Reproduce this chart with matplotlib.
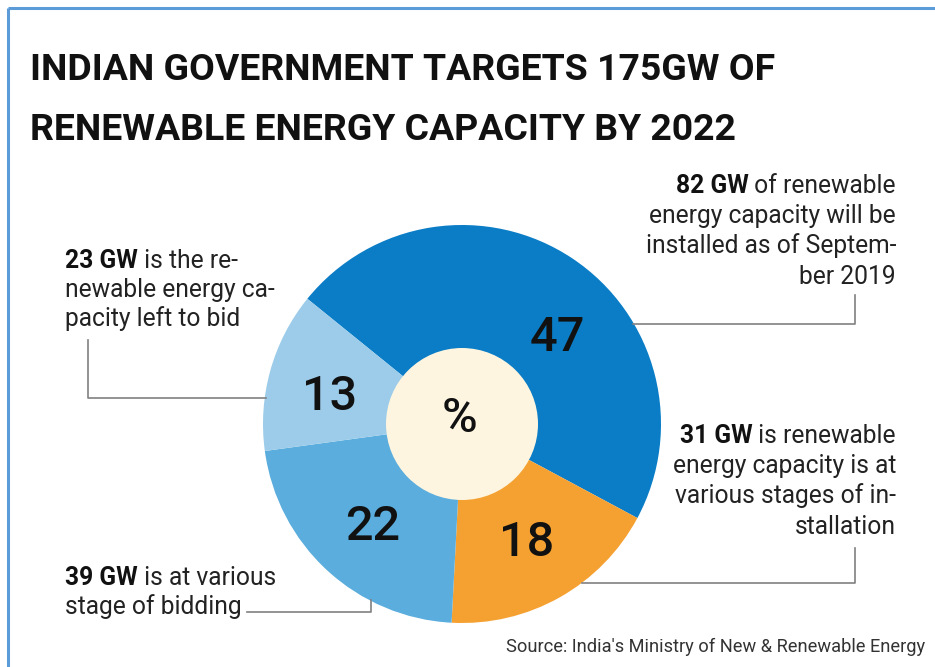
import matplotlib
matplotlib.use("Agg")
import matplotlib.pyplot as plt
from matplotlib import font_manager as fm
from matplotlib.patches import Circle

W, H = 935, 667

# data
shares = [47, 18, 22, 13]
share_labels = ["47", "18", "22", "13"]
colors = ["#0a7dc6", "#f5a132", "#5aaddd", "#9ccce9"]
title_lines = ["INDIAN GOVERNMENT TARGETS 175GW OF",
               "RENEWABLE ENERGY CAPACITY BY 2022"]
notes = [
    ("82 GW", " of renewable",
     ["energy capacity will be", "installed as of Septem-", "ber 2019"]),
    ("31 GW", " is renewable",
     ["energy capacity is at", "various stages of in-", "stallation"]),
    ("23 GW", " is the re-",
     ["newable energy ca-", "pacity left to bid"]),
    ("39 GW", " is at various",
     ["stage of bidding"]),
]
source = "Source: India's Ministry of New & Renewable Energy"


def pick(*names):
    for n in names:
        try:
            fm.findfont(fm.FontProperties(family=n), fallback_to_default=False)
            return n
        except ValueError:
            pass
    return "DejaVu Sans"


narrow = pick("Liberation Sans Narrow", "Roboto", "DejaVu Sans")

fig = plt.figure(figsize=(W / 100, H / 100), dpi=100)
ax = fig.add_axes([0, 0, 1, 1])

cx, cy, r = 462, H - 424, 199
ax.pie(shares, colors=colors, startangle=141, counterclock=False,
       center=(cx, cy), radius=r, wedgeprops=dict(linewidth=0))
ax.add_patch(Circle((cx, cy), 76, facecolor="#fdf5e0", edgecolor="none", zorder=3))
ax.set_xlim(0, W)
ax.set_ylim(0, H)
ax.set_aspect("auto")
ax.axis("off")

renderer = fig.canvas.get_renderer()


def width(t):
    return t.get_window_extent(renderer).width


def fit(t, target):
    t.set_fontsize(t.get_fontsize() * target / width(t))


# border
ax.plot([8, 8], [0, H - 8], color="#5a9bd8", lw=2.2, solid_capstyle="butt")
ax.plot([8, W], [H - 8, H - 8], color="#5a9bd8", lw=2.2, solid_capstyle="butt")

# title
t1 = ax.text(30, H - 80, title_lines[0], family=narrow, weight="bold",
             fontsize=30, color="#111111")
fit(t1, 745)
ax.text(30, H - 140, title_lines[1], family=narrow, weight="bold",
        fontsize=t1.get_fontsize(), color="#111111")

# annotation font size from a reference line
probe = ax.text(0, 0, "energy capacity will be", family=narrow, fontsize=18)
fit(probe, 247)
fs = probe.get_fontsize()
probe.remove()

blocks = [(896, [193, 223, 253, 284], "right"),
          (896, [443, 473, 503, 534], "right"),
          (65, [268, 297, 326], "left"),
          (65, [585, 614], "left")]
for (bold, rest, lines), (x, ys, ha) in zip(notes, blocks):
    if ha == "right":
        tr = ax.text(x, H - ys[0], rest, family=narrow, fontsize=fs,
                     color="#222222", ha="right")
        ax.text(x - width(tr), H - ys[0], bold, family=narrow, fontsize=fs,
                weight="bold", color="#111111", ha="right")
    else:
        tb = ax.text(x, H - ys[0], bold, family=narrow, fontsize=fs,
                     weight="bold", color="#111111")
        ax.text(x + width(tb), H - ys[0], rest, family=narrow, fontsize=fs,
                color="#222222")
    for line, y in zip(lines, ys[1:]):
        ax.text(x, H - y, line, family=narrow, fontsize=fs, color="#222222", ha=ha)

# leader lines
lc = dict(color="#808080", lw=1.2)
ax.plot([855, 855, 633], [H - 295, H - 324, H - 324], **lc)
ax.plot([855, 855, 582], [H - 548, H - 583, H - 583], **lc)
ax.plot([88, 88, 266], [H - 340, H - 398, H - 398], **lc)
ax.plot([247, 371, 371], [H - 612, H - 612, H - 600], **lc)

# values on the ring
label_pos = [(557, 338), (527, 543), (373, 527), (330, 397)]
for lab, (x, y) in zip(share_labels, label_pos):
    ax.text(x, H - y, lab, family=narrow, fontsize=35, weight="medium",
            color="#111111", ha="center", va="center", zorder=4)
ax.text(459, H - 419, "%", family=narrow, fontsize=35, weight="medium",
        color="#111111", ha="center", va="center", zorder=4)

s = ax.text(925, H - 652, source, family=narrow, fontsize=13,
            color="#333333", ha="right")
fit(s, 418)

fig.savefig("out.png", dpi=100)
